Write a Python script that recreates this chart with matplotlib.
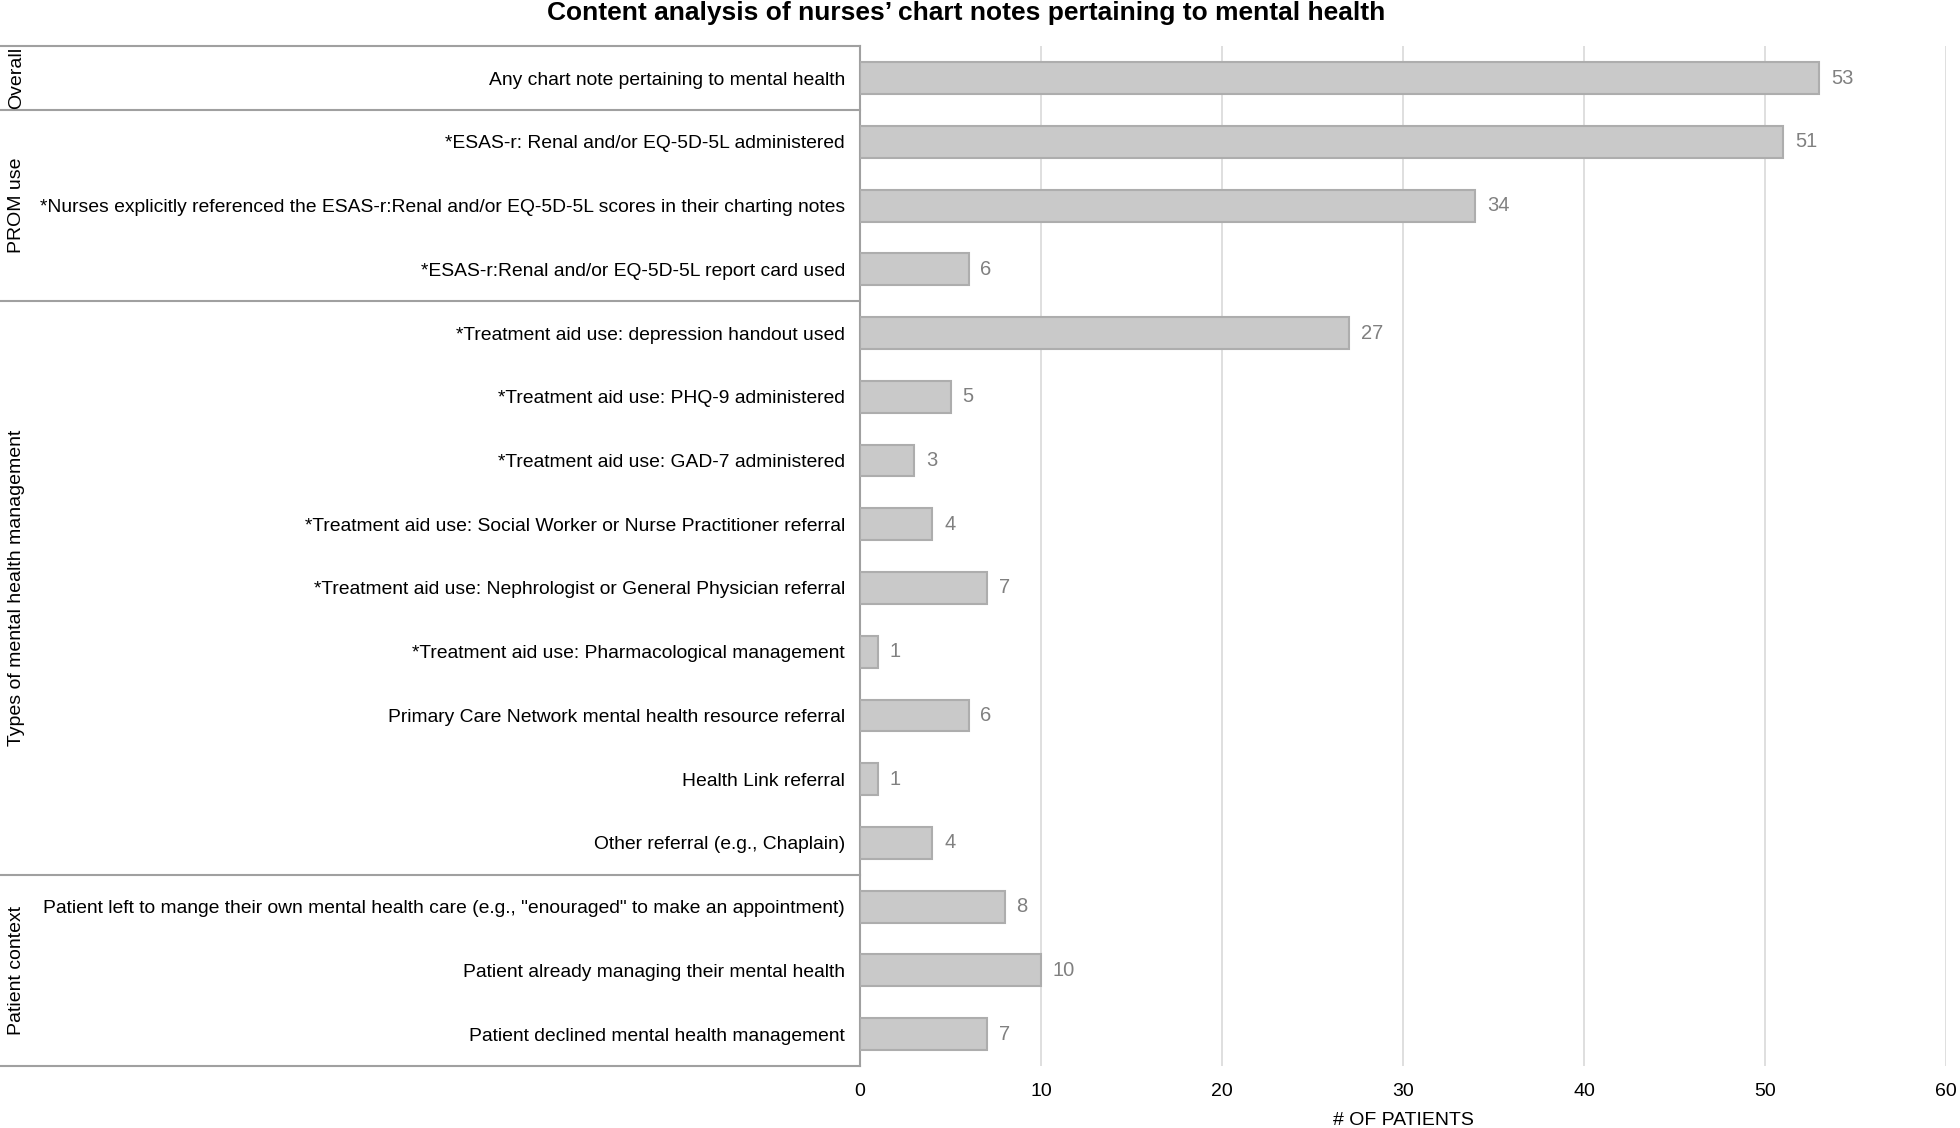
import matplotlib
matplotlib.use("Agg")
import matplotlib.pyplot as plt
import matplotlib.transforms as mtransforms

narrow = ["Liberation Sans Narrow", "Liberation Sans", "DejaVu Sans"]
regular = ["Liberation Sans", "DejaVu Sans"]

title = "Content analysis of nurses\u2019 chart notes pertaining to mental health"
items = [
    "Any chart note pertaining to mental health",
    "*ESAS-r: Renal and/or EQ-5D-5L administered",
    "*Nurses explicitly referenced the ESAS-r:Renal and/or EQ-5D-5L scores in their charting notes",
    "*ESAS-r:Renal and/or EQ-5D-5L report card used",
    "*Treatment aid use: depression handout used",
    "*Treatment aid use: PHQ-9 administered",
    "*Treatment aid use: GAD-7 administered",
    "*Treatment aid use: Social Worker or Nurse Practitioner referral",
    "*Treatment aid use: Nephrologist or General Physician referral",
    "*Treatment aid use: Pharmacological management",
    "Primary Care Network mental health resource referral",
    "Health Link referral",
    "Other referral (e.g., Chaplain)",
    "Patient left to mange their own mental health care (e.g., \"enouraged\" to make an appointment)",
    "Patient already managing their mental health",
    "Patient declined mental health management",
]
patients = [53, 51, 34, 6, 27, 5, 3, 4, 7, 1, 6, 1, 4, 8, 10, 7]
groups = ["Overall", "PROM use", "Types of mental health management", "Patient context"]
group_sizes = [1, 3, 9, 3]

fig = plt.figure(figsize=(19.6, 11.28), dpi=100)
ax = fig.add_axes([0.4388, 0.055, 0.5541, 0.904])

y = list(range(len(items)))
ax.barh(y, patients, height=0.5, color="#c9c9c9", edgecolor="#adadad", linewidth=1.5, zorder=3)
for yi, v in zip(y, patients):
    ax.text(v + 0.65, yi, str(v), va="center", ha="left", fontsize=14.5,
            color="#808080", family=narrow)

ax.set_ylim(len(items) - 0.5, -0.5)
ax.set_xlim(0, 60)
ax.set_xticks(range(0, 61, 10))
ax.set_yticks(y)
ax.set_yticklabels(items, family=narrow, fontsize=13.9)
ax.tick_params(axis="y", length=0, pad=11)
ax.tick_params(axis="x", length=0, pad=12, labelsize=14)
for lbl in ax.get_xticklabels():
    lbl.set_family(narrow)
ax.grid(axis="x", color="#d9d9d9", linewidth=1.2, zorder=0)
for s in ["top", "right", "bottom"]:
    ax.spines[s].set_visible(False)
ax.spines["left"].set_color("#a0a0a0")
ax.spines["left"].set_linewidth(1.5)
ax.set_xlabel("# OF PATIENTS", family=narrow, fontsize=14, labelpad=9)

# group boxes on the left
trans = mtransforms.blended_transform_factory(fig.transFigure, ax.transData)
x_axis = 0.4388
start = 0
bounds = [-0.5]
for name, n in zip(groups, group_sizes):
    center = start + (n - 1) / 2
    ax.text(0.0085, center, name, rotation=90, va="center", ha="center",
            fontsize=14, family=regular, transform=trans)
    start += n
    bounds.append(start - 0.5)
for b in bounds:
    ax.plot([0, x_axis], [b, b], color="#a0a0a0", linewidth=1.5,
            transform=trans, clip_on=False)

fig.text(0.493, 0.999, title, ha="center", va="top", fontsize=19,
         fontweight="bold", family=narrow)

fig.savefig("out.png", dpi=100)
